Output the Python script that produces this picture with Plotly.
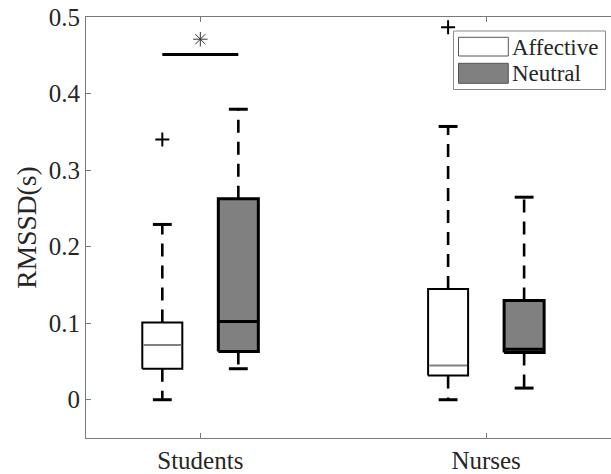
import plotly.graph_objects as go

# ---- data ----
categories = ["Students", "Nurses"]
positions = [1, 2]
groups = ["Affective", "Neutral"]

affective_q1 = [0.0405, 0.0318]
affective_median = [0.0714, 0.0448]
affective_q3 = [0.101, 0.1445]
affective_lower = [0.0, 0.0]
affective_upper = [0.229, 0.357]
affective_outliers = [[0.34], [0.4865]]

neutral_q1 = [0.063, 0.0617]
neutral_median = [0.1023, 0.0659]
neutral_q3 = [0.2624, 0.1296]
neutral_lower = [0.0405, 0.0152]
neutral_upper = [0.3795, 0.2646]
neutral_outliers = [[], []]

significance_value = 0.451      # Students: Affective vs Neutral
significance_star = 0.471

y_ticks = [0, 0.1, 0.2, 0.3, 0.4, 0.5]
y_tick_labels = ["0", "0.1", "0.2", "0.3", "0.4", "0.5"]

# ---- style ----
FONT = "Times New Roman, Liberation Serif, Tinos, DejaVu Serif, serif"
TXT = "#262626"
AX = "#7a7a7a"
GRAY = "#808080"
W, H = 611, 474
ML, MR, MT, MB = 86, 0, 17, 36
OFFSET = 0.133
BOXW = 0.14
CAPW = 0.066

styles = {
    "Affective": dict(fill="white", edge="black", edge_w=2, med="#808080", med_w=2, off=-OFFSET),
    "Neutral": dict(fill=GRAY, edge="black", edge_w=3, med="black", med_w=3, off=OFFSET),
}
stats = {
    "Affective": (affective_q1, affective_median, affective_q3, affective_lower, affective_upper, affective_outliers),
    "Neutral": (neutral_q1, neutral_median, neutral_q3, neutral_lower, neutral_upper, neutral_outliers),
}

fig = go.Figure()

for g in groups:
    st = styles[g]
    q1s, meds, q3s, lows, ups, outs = stats[g]
    for i, p in enumerate(positions):
        c = p + st["off"]
        # whiskers (dashed)
        for a, b in ((q3s[i], ups[i]), (q1s[i], lows[i])):
            fig.add_trace(go.Scatter(x=[c, c], y=[a, b], mode="lines",
                                     line=dict(color="black", width=2.6, dash="13px,9px"),
                                     showlegend=False, hoverinfo="skip"))
        # caps
        for v in (ups[i], lows[i]):
            fig.add_trace(go.Scatter(x=[c - CAPW / 2, c + CAPW / 2], y=[v, v], mode="lines",
                                     line=dict(color="black", width=3),
                                     showlegend=False, hoverinfo="skip"))
        # box
        x0, x1 = c - BOXW / 2, c + BOXW / 2
        fig.add_trace(go.Scatter(x=[x0, x1, x1, x0, x0], y=[q1s[i], q1s[i], q3s[i], q3s[i], q1s[i]],
                                 mode="lines", fill="toself", fillcolor=st["fill"],
                                 line=dict(color=st["edge"], width=st["edge_w"]),
                                 showlegend=False, hoverinfo="skip"))
        # median
        fig.add_trace(go.Scatter(x=[x0 + 0.004, x1 - 0.004], y=[meds[i], meds[i]], mode="lines",
                                 line=dict(color=st["med"], width=st["med_w"]),
                                 showlegend=False, hoverinfo="skip"))
        # outliers
        if outs[i]:
            fig.add_trace(go.Scatter(x=[c] * len(outs[i]), y=outs[i], mode="markers",
                                     marker=dict(symbol="cross-thin", size=10, color="black",
                                                 line=dict(color="black", width=2)),
                                     showlegend=False, hoverinfo="skip"))

# significance bar and star
fig.add_trace(go.Scatter(x=[positions[0] - OFFSET, positions[0] + OFFSET],
                         y=[significance_value, significance_value], mode="lines",
                         line=dict(color="black", width=3), showlegend=False, hoverinfo="skip"))
fig.add_trace(go.Scatter(x=[positions[0]], y=[significance_star], mode="markers",
                         marker=dict(symbol="asterisk-open", size=12, color="#333333",
                                     line=dict(color="#333333", width=1)),
                         showlegend=False, hoverinfo="skip"))

# ---- custom legend (pixel -> paper helpers) ----
PW = W - ML - MR
PH = H - MT - MB
def px(x):
    return (x - ML) / PW
def py(y):
    return 1 - (y - MT) / PH

fig.add_shape(type="rect", xref="paper", yref="paper",
              x0=px(453.5), x1=px(605.5), y0=py(89.5), y1=py(31),
              line=dict(color="#8a8a8a", width=1), fillcolor="white", layer="above")
legend_rows = [("Affective", "white", 37.3, 56, 47), ("Neutral", GRAY, 63.3, 83.3, 73.5)]
for name, fc, top, bot, cy in legend_rows:
    fig.add_shape(type="rect", xref="paper", yref="paper",
                  x0=px(458.5), x1=px(508.3), y0=py(bot), y1=py(top),
                  line=dict(color="#555555", width=1), fillcolor=fc, layer="above")
    fig.add_annotation(xref="paper", yref="paper", x=px(510), y=py(cy),
                       text=name, showarrow=False, xanchor="left", yanchor="middle",
                       font=dict(family=FONT, size=23, color=TXT))

fig.update_layout(
    width=W, height=H,
    margin=dict(l=ML, r=MR, t=MT, b=MB, pad=0, autoexpand=False),
    paper_bgcolor="white", plot_bgcolor="white",
    font=dict(family=FONT, size=25, color=TXT),
    showlegend=False,
)
fig.update_xaxes(range=[0.6, 2.437], tickvals=positions, ticktext=categories,
                 showline=True, linecolor=AX, linewidth=1, mirror="ticks",
                 ticks="inside", ticklen=5, tickcolor=AX, tickwidth=1,
                 showgrid=False, zeroline=False, automargin=False,
                 tickfont=dict(family=FONT, size=25, color=TXT))
fig.update_yaxes(range=[-0.05, 0.5], tickvals=y_ticks, ticktext=y_tick_labels,
                 showline=True, linecolor=AX, linewidth=1, mirror=False,
                 ticks="inside", ticklen=5, tickcolor=AX, tickwidth=1,
                 showgrid=False, zeroline=False, automargin=False,
                 tickfont=dict(family=FONT, size=25, color=TXT),
                 title=dict(text="RMSSD(s)", font=dict(family=FONT, size=27.5, color=TXT), standoff=4))

fig.write_html("out.html", config={"displayModeBar": False},
               post_script="document.body.style.margin='0';document.body.style.padding='0';")
